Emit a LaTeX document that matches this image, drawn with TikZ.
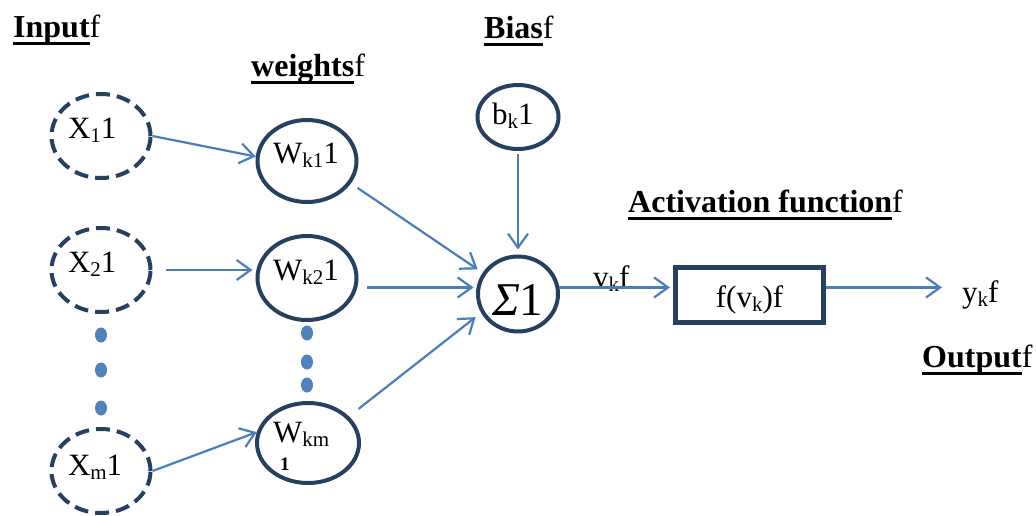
\documentclass[tikz,border=0pt]{standalone}
\usepackage{fontspec}
\setmainfont{Liberation Serif}
\usetikzlibrary{shapes.geometric,arrows.meta}
\definecolor{navy}{HTML}{254061}
\definecolor{arrblue}{HTML}{4A7EBB}
\definecolor{dotblue}{HTML}{4F81BD}
\newsavebox\ulbox
\newcommand\ulab[1]{\sbox\ulbox{#1}\rlap{\rule[-7.5pt]{\wd\ulbox}{3pt}}\usebox\ulbox}
\newcommand\sbs[1]{\raisebox{-4pt}{\fontsize{21}{21}\selectfont #1}}
\newcommand\intext[3]{\makebox[#1][l]{\raisebox{#2}[0pt][0pt]{#3}}}
\begin{document}
\begin{tikzpicture}[x=1pt,y=-1pt,
  every node/.style={font=\fontsize{31}{37}\selectfont, inner sep=0pt},
  inpnode/.style={ellipse, draw=navy, line width=4pt, dash pattern=on 14pt off 7pt, minimum width=99pt, minimum height=84pt},
  wtnode/.style={ellipse, draw=navy, line width=4pt, minimum width=99pt, minimum height=82pt},
  arr/.style={draw=arrblue, line width=2.2pt, -{Straight Barb[length=14pt,width=20pt]}},
  lab/.style={anchor=base west, font=\fontsize{32}{38}\selectfont},
  dotmark/.style={fill=dotblue}
]
\useasboundingbox (0,0) rectangle (1036,515);

% labels
\node[lab] (Lin) at (13,37) {\ulab{\bfseries Input}f};
\node[lab] (Lwt) at (251,76) {\ulab{\bfseries weights}f};
\node[lab] (Lbias) at (484,38) {\ulab{\bfseries Bias}f};
\node[lab] (Lact) at (628,212) {\ulab{\bfseries Activation function}f};
\node[lab] (Lout) at (922,367) {\ulab{\bfseries Output}f};

% inputs
\node[inpnode] (X1) at (101,136) {\intext{66pt}{-2pt}{X\sbs{1}1}};
\node[inpnode] (X2) at (101,270) {\intext{66pt}{-2pt}{X\sbs{2}1}};
\node[inpnode] (Xm) at (101,471) {\intext{66pt}{-4pt}{X\sbs{m}1}};

% weights
\node[wtnode] (Wk1) at (307,161) {\intext{68pt}{-2pt}{W\sbs{k1}1}};
\node[wtnode, minimum height=84pt] (Wk2) at (307,278) {\intext{68pt}{-2pt}{W\sbs{k2}1}};
\node[wtnode, minimum width=102pt, minimum height=80pt] (Wkm) at (308,443)
  {\makebox[70pt][l]{\rlap{\raisebox{1pt}[0pt][0pt]{W\sbs{km}}}\hspace{7pt}\raisebox{-27pt}[0pt][0pt]{\fontsize{19}{19}\selectfont\bfseries 1}}};

% bias and sum
\node[wtnode, minimum width=81pt, minimum height=64pt] (b) at (518,117) {\intext{52pt}{-7pt}{b\sbs{k}1}};
\node[wtnode, minimum width=80pt, minimum height=75pt] (S) at (518,294)
  {\intext{52pt}{-21pt}{\fontsize{47}{50}\selectfont\itshape Σ\upshape 1}};

% activation box
\node[draw=navy, line width=5pt, minimum width=148pt, minimum height=55pt] (Box) at (749.5,295)
  {\raisebox{-12pt}[0pt][0pt]{f(v\sbs{k})f}};

% texts on the output line
\node[anchor=base west] (vk) at (593,287) {v\sbs{k}f};
\node[anchor=base west] (yk) at (962,302) {y\sbs{k}f};

% dots
\fill[dotmark] (101,335) ellipse (6pt and 7.5pt);
\fill[dotmark] (101,370) ellipse (6pt and 7.5pt);
\fill[dotmark] (101,408) ellipse (6pt and 7.5pt);
\fill[dotmark] (307,333) ellipse (6pt and 7.5pt);
\fill[dotmark] (307,362) ellipse (6pt and 7.5pt);
\fill[dotmark] (307,385) ellipse (6pt and 7.5pt);

% connectors
\draw[arr] (X1.east) -- (Wk1.175);
\draw[arr, shorten <=13pt, shorten >=3pt] (X2.east) -- (X2.east -| Wk2.west);
\draw[arr] (Xm.east) -- (Wkm.168);
\draw[arr, shorten <=8pt, shorten >=6pt] (Wk1.-27) -- (S.149);
\draw[arr, shorten <=8pt, shorten >=3pt] (Wk2.east |- S.171) -- (S.171);
\draw[arr, shorten <=12pt, shorten >=7pt] (Wkm.33) -- (S.207);
\draw[arr, shorten <=3pt, shorten >=5pt] (b.south) -- (S.north);
\draw[arr, shorten >=3pt] (S.9) -- (S.9 -| Box.west);
\draw[arr, shorten >=20pt] (Box.east |- S.9) -- (S.9 -| yk.west);
\end{tikzpicture}
\end{document}
